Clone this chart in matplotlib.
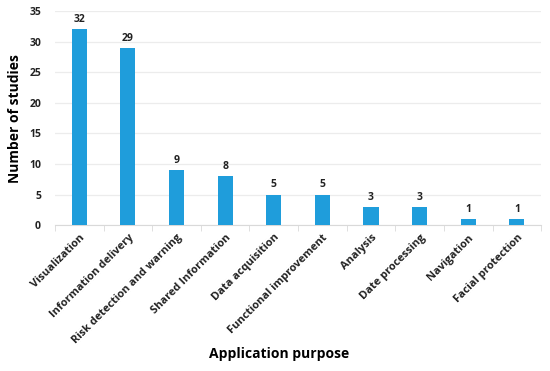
"""Bar chart: number of studies per application purpose."""
import numpy as np
import matplotlib
matplotlib.use('Agg')
import matplotlib.pyplot as plt

categories = ['Visualization', 'Information delivery', 'Risk detection and warning',
              'Shared Information', 'Data acquisition', 'Functional improvement',
              'Analysis', 'Date processing', 'Navigation', 'Facial protection']
counts = [32, 29, 9, 8, 5, 5, 3, 3, 1, 1]
yticks = [0, 5, 10, 15, 20, 25, 30, 35]

BAR_COLOR = '#1f9ddb'
plt.rcParams['font.family'] = ['Open Sans', 'DejaVu Sans']
plt.rcParams['font.stretch'] = 'normal'

fig = plt.figure(figsize=(5.5, 3.71), dpi=100)
ax = fig.add_axes([0.10, 0.393, 0.884, 0.577])
x = np.arange(len(categories))
ax.bar(x, counts, width=0.31, color=BAR_COLOR, zorder=3)
for xi, v in zip(x, counts):
    ax.text(xi, v + 0.7, str(v), ha='center', va='bottom', fontsize=7.5, fontweight='bold', color='#222222')

ax.set_xlim(-0.5, len(categories) - 0.5)
ax.set_ylim(0, 35)
ax.set_yticks(yticks)
ax.set_yticklabels([str(t) for t in yticks], fontsize=7.5, fontweight='bold', color='#222222')
ax.grid(axis='y', color='#ececec', lw=0.9, zorder=0)
ax.set_xticks(x)
ax.set_xticklabels(categories, rotation=45, ha='right', rotation_mode='anchor',
                   fontsize=7.9, fontweight='bold', color='#222222')
ax.tick_params(axis='x', length=0, pad=5)
ax.tick_params(axis='y', length=0, pad=10)
# boundary ticks between categories
ax.set_xticks(np.arange(-0.5, len(categories)), minor=True)
ax.tick_params(axis='x', which='minor', length=4, color='#d9d9d9')
for s in ['top', 'right', 'left']:
    ax.spines[s].set_visible(False)
ax.spines['bottom'].set_color('#d9d9d9')
ax.set_ylabel('Number of studies', fontsize=10, fontweight='bold')
ax.yaxis.set_label_coords(-0.068, 0.5)
ax.set_xlabel('Application purpose', fontsize=10, fontweight='bold')
ax.xaxis.set_label_coords(0.46, -0.57)

fig.savefig('out.png', dpi=100)
